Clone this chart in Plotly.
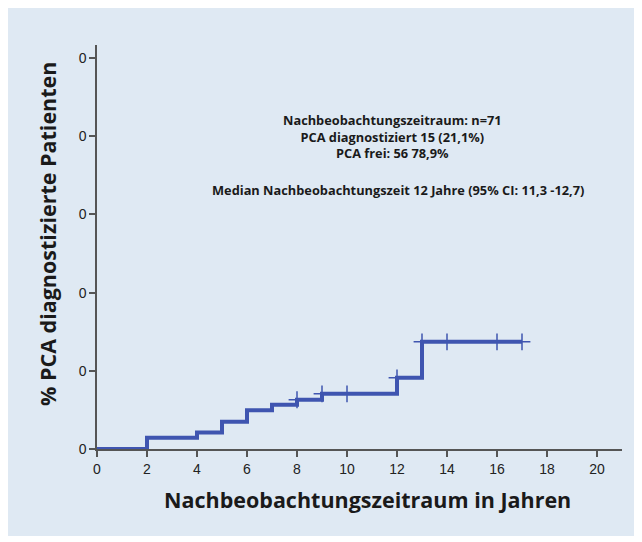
import plotly.graph_objects as go

# Data
step_times = [0, 2, 4, 5, 6, 7, 8, 9, 12, 13, 17]
step_values = [0, 0.029, 0.042, 0.070, 0.099, 0.113, 0.126, 0.141, 0.182, 0.274, 0.274]
censor_times = [8, 9, 10, 12, 13, 14, 16, 17]
censor_values = [0.126, 0.141, 0.141, 0.182, 0.274, 0.274, 0.274, 0.274]
x_ticks = [0, 2, 4, 6, 8, 10, 12, 14, 16, 18, 20]
y_ticks = [0, 0.2, 0.4, 0.6, 0.8, 1.0]
y_ticktext = ["0", "0", "0", "0", "0", "0"]
info_lines = [
    "Nachbeobachtungszeitraum: n=71",
    "PCA diagnostiziert 15 (21,1%)",
    "PCA frei: 56 78,9%",
]
median_line = "Median Nachbeobachtungszeit 12 Jahre (95% CI: 11,3 -12,7)"

BLUE = "#3f55b0"
BG = "#dfe9f3"

OFF = 8  # page body margin
FW, FH = 642 - OFF, 542 - OFF
# plot area in reference-page pixels
L, R, T, B = 97, 622, 45, 449
W, H = R - L, B - T

def px_x(p):
    return (p - L) / W

def px_y(p):
    return (B - p) / H

fig = go.Figure()
fig.add_trace(go.Scatter(
    x=step_times, y=step_values, mode="lines", line_shape="hv",
    line=dict(color=BLUE, width=4), showlegend=False, hoverinfo="skip",
))
fig.add_trace(go.Scatter(
    x=censor_times, y=censor_values, mode="markers",
    marker=dict(symbol="cross-thin", size=12, line=dict(color=BLUE, width=1.5)),
    showlegend=False, hoverinfo="skip",
))

fig.add_shape(type="rect", xref="paper", yref="paper",
              x0=px_x(OFF - 2), x1=px_x(650), y0=px_y(536), y1=px_y(OFF - 2),
              fillcolor=BG, line=dict(width=0), layer="below")

fig.add_annotation(x=px_x(392), y=px_y(136.7), xref="paper", yref="paper",
                   text="<br>".join(info_lines), showarrow=False, align="center",
                   xanchor="center", yanchor="middle",
                   font=dict(family="Open Sans", size=12.8, color="#1a1a1a", weight="bold"))
fig.add_annotation(x=px_x(398), y=px_y(190), xref="paper", yref="paper",
                   text=median_line, showarrow=False, xanchor="center", yanchor="middle",
                   font=dict(family="Open Sans", size=12.8, color="#1a1a1a", weight="bold"))

fig.add_annotation(x=px_x(367), y=px_y(500), xref="paper", yref="paper",
                   text="Nachbeobachtungszeitraum in Jahren", showarrow=False,
                   xanchor="center", yanchor="middle",
                   font=dict(family="Open Sans", size=21.5, color="#1a1a1a", weight="bold"))
fig.add_annotation(x=px_x(47), y=px_y(234), xref="paper", yref="paper",
                   text="% PCA diagnostizierte Patienten", showarrow=False, textangle=-90,
                   xanchor="center", yanchor="middle",
                   font=dict(family="Open Sans", size=21.5, color="#1a1a1a", weight="bold"))

fig.update_xaxes(range=[0, 21], tickvals=x_ticks, showgrid=False, zeroline=False,
                 showline=True, linecolor="#555555", linewidth=1.5,
                 ticks="outside", ticklen=6, tickcolor="#555555", tickwidth=1.5,
                 tickfont=dict(family="Liberation Sans", size=14, color="#222222"))
fig.update_yaxes(range=[0, 0.2 * H / 78.2], tickvals=y_ticks, ticktext=y_ticktext,
                 showgrid=False, zeroline=False,
                 showline=True, linecolor="#555555", linewidth=1.5,
                 ticks="outside", ticklen=6, tickcolor="#555555", tickwidth=1.5,
                 tickfont=dict(family="Liberation Sans", size=14, color="#222222"))

fig.update_layout(width=FW, height=FH,
                  margin=dict(l=L - OFF, r=642 - R, t=T - OFF, b=542 - B),
                  paper_bgcolor="white", plot_bgcolor="rgba(0,0,0,0)")

fig.write_html("out.html")
